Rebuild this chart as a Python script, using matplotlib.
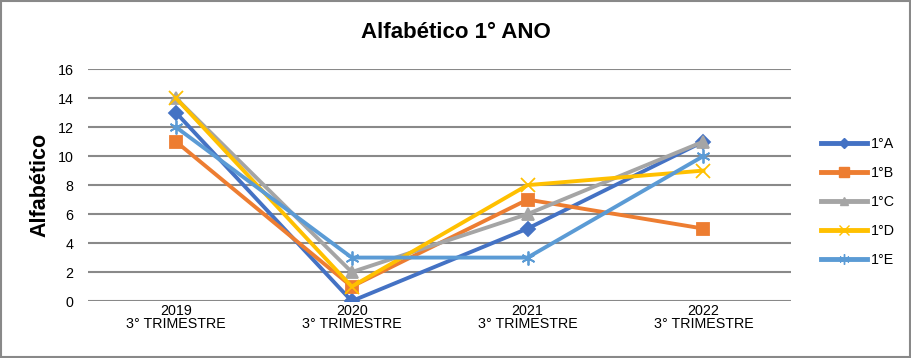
import numpy as np
import matplotlib
matplotlib.use("Agg")
import matplotlib.pyplot as plt
from matplotlib.lines import Line2D

plt.rcParams['font.family'] = ['Liberation Sans', 'DejaVu Sans']

categories = ["2019\n3° TRIMESTRE", "2020\n3° TRIMESTRE", "2021\n3° TRIMESTRE", "2022\n3° TRIMESTRE"]
series_names = ["1°A", "1°B", "1°C", "1°D", "1°E"]
val_a = [13, 0, 5, 11]
val_b = [11, 1, 7, 5]
val_c = [14, 2, 6, 11]
val_d = [14, 1, 8, 9]
val_e = [12, 3, 3, 10]
values = [val_a, val_b, val_c, val_d, val_e]

colors = ["#4472C4", "#ED7D31", "#A5A5A5", "#FFC000", "#5B9BD5"]
markers = ["D", "s", "^", "x", (6, 2, 0)]
msizes = [7, 9, 8, 10, 10]

fig = plt.figure(figsize=(9.11, 3.58), dpi=100)
ax = fig.add_axes([0.0966, 0.159, 0.772, 0.648])

x = np.arange(len(categories))
for name, vals, c, m, ms in zip(series_names, values, colors, markers, msizes):
    ax.plot(x, vals, color=c, lw=2.8, marker=m, ms=ms, mfc=c, mec=c, mew=1.3,
            label=name, zorder=3)

ax.set_xlim(-0.5, 3.5)
ax.set_ylim(0, 16)
ax.set_yticks(range(0, 17, 2))
ax.set_xticks(x)
ax.set_xticklabels(categories, fontsize=10.3, linespacing=0.95)
ax.tick_params(axis='y', labelsize=10.3, length=0, pad=10.5)
ax.tick_params(axis='x', length=0, pad=2)
ax.grid(axis='y', color='#898989', lw=1.5, zorder=0)
for s in ax.spines.values():
    s.set_visible(False)

ax.set_ylabel("Alfabético", fontsize=15.5, fontweight='bold', labelpad=5)
fig.text(0.5, 0.91, "Alfabético 1° ANO", ha='center', va='center',
         fontsize=16, fontweight='bold')

handles = [Line2D([0], [0], color=c, lw=3.5, marker=m, ms=ms * 0.75, mfc=c, mec=c)
           for c, m, ms in zip(colors, markers, msizes)]
fig.legend(handles, series_names, loc='center left', bbox_to_anchor=(0.887, 0.436),
           frameon=False, fontsize=10.3, handlelength=3.2, labelspacing=1.05,
           handletextpad=0.3)

border = plt.Rectangle((0.001, 0.002), 0.998, 0.996, transform=fig.transFigure,
                       fill=False, edgecolor='#898989', lw=1.5)
fig.patches.append(border)

fig.savefig("out.png", dpi=100)
